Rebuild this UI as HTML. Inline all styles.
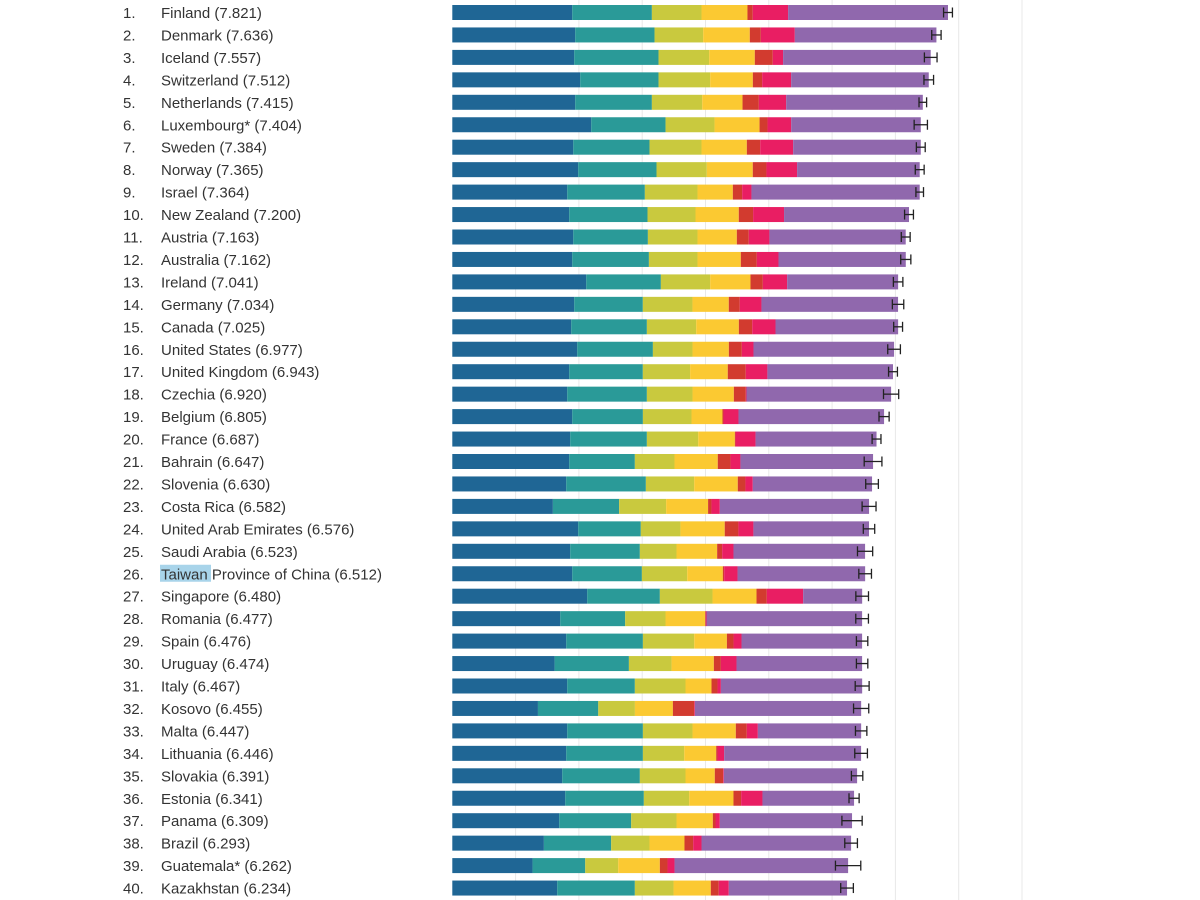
<!DOCTYPE html>
<html><head><meta charset="utf-8"><style>
html,body{margin:0;padding:0;background:#fff;}
svg{display:block;}
text{font-family:"Liberation Sans",sans-serif;font-size:15px;fill:#333;}
</style></head><body>
<svg id="chart" width="1200" height="900" xmlns="http://www.w3.org/2000/svg">
<g id="grid"></g>
<g id="bars"></g>
<g id="labels"></g>
</svg>
<script>
const countries=["Finland","Denmark","Iceland","Switzerland","Netherlands","Luxembourg*","Sweden","Norway","Israel","New Zealand","Austria","Australia","Ireland","Germany","Canada","United States","United Kingdom","Czechia","Belgium","France","Bahrain","Slovenia","Costa Rica","United Arab Emirates","Saudi Arabia","Taiwan Province of China","Singapore","Romania","Spain","Uruguay","Italy","Kosovo","Malta","Lithuania","Slovakia","Estonia","Panama","Brazil","Guatemala*","Kazakhstan"];
const scores=["7.821","7.636","7.557","7.512","7.415","7.404","7.384","7.365","7.364","7.200","7.163","7.162","7.041","7.034","7.025","6.977","6.943","6.920","6.805","6.687","6.647","6.630","6.582","6.576","6.523","6.512","6.480","6.477","6.476","6.474","6.467","6.455","6.447","6.446","6.391","6.341","6.309","6.293","6.262","6.234"];
const gdp=[1.895,1.942,1.926,2.021,1.942,2.195,1.911,1.989,1.816,1.847,1.911,1.895,2.116,1.926,1.879,1.974,1.847,1.816,1.895,1.863,1.847,1.800,1.589,1.989,1.863,1.895,2.132,1.705,1.800,1.616,1.816,1.353,1.816,1.800,1.737,1.784,1.689,1.447,1.268,1.658];
const social=[1.258,1.253,1.332,1.237,1.211,1.174,1.205,1.237,1.226,1.237,1.179,1.211,1.179,1.084,1.195,1.195,1.163,1.258,1.116,1.211,1.037,1.258,1.047,0.989,1.100,1.100,1.147,1.026,1.211,1.174,1.068,0.953,1.195,1.211,1.226,1.242,1.137,1.063,0.832,1.226];
const health=[0.784,0.768,0.800,0.816,0.795,0.774,0.821,0.795,0.832,0.758,0.784,0.768,0.779,0.784,0.779,0.626,0.747,0.721,0.768,0.811,0.626,0.763,0.742,0.626,0.579,0.716,0.832,0.637,0.811,0.674,0.800,0.579,0.784,0.653,0.721,0.716,0.716,0.605,0.521,0.611];
const freedom=[0.726,0.737,0.721,0.674,0.637,0.711,0.716,0.726,0.558,0.684,0.621,0.684,0.637,0.574,0.674,0.574,0.595,0.653,0.489,0.579,0.684,0.689,0.663,0.700,0.642,0.563,0.695,0.626,0.516,0.668,0.411,0.600,0.684,0.505,0.463,0.700,0.574,0.553,0.658,0.589];
const generosity=[0.084,0.174,0.284,0.147,0.258,0.126,0.211,0.216,0.147,0.226,0.189,0.253,0.195,0.174,0.211,0.205,0.284,0.189,0.016,0.011,0.200,0.121,0.053,0.216,0.079,0.021,0.163,0.011,0.105,0.111,0.095,0.337,0.174,0.021,0.132,0.121,0.042,0.137,0.121,0.126];
const corruption=[0.558,0.537,0.163,0.458,0.432,0.374,0.521,0.484,0.147,0.489,0.326,0.342,0.384,0.342,0.368,0.184,0.342,0.011,0.237,0.316,0.158,0.116,0.132,0.237,0.179,0.211,0.574,0.011,0.126,0.247,0.053,0.011,0.174,0.105,0.011,0.337,0.068,0.132,0.111,0.158];
const dystopia=[2.526,2.237,2.332,2.174,2.158,2.047,2.016,1.937,2.658,1.974,2.153,2.011,1.753,2.158,1.937,2.221,1.984,2.284,2.300,1.911,2.095,1.884,2.358,1.826,2.079,2.016,0.932,2.458,1.905,1.984,2.232,2.626,1.632,2.163,2.105,1.447,2.089,2.363,2.742,1.868];
const errHalf=[0.07,0.074,0.1,0.076,0.06,0.105,0.07,0.07,0.06,0.07,0.07,0.08,0.075,0.09,0.07,0.1,0.07,0.12,0.08,0.07,0.14,0.1,0.11,0.09,0.12,0.1,0.1,0.1,0.09,0.09,0.11,0.12,0.09,0.1,0.09,0.08,0.16,0.1,0.2,0.1];
const gridTicks=[1,2,3,4,5,6,7,8,9];

const series=[gdp,social,health,freedom,generosity,corruption,dystopia];
const seriesNames=["gdp","social-support","healthy-life","freedom","generosity","corruption","dystopia-residual"];
const colors=["#1f6695","#2a9a98","#c9c93e","#fbc932","#d23b2f","#e91e63","#9068ad"];
const NS="http://www.w3.org/2000/svg";
const x0=452.3, unit=63.3, y0=5, pitch=22.45, bh=15;
const xs=v=>x0+v*unit;
const yRow=i=>y0+i*pitch;
function mk(tag,attrs,parent){const e=document.createElementNS(NS,tag);for(const k in attrs)e.setAttribute(k,attrs[k]);parent.appendChild(e);return e;}
const grid=document.getElementById('grid'),bars=document.getElementById('bars'),labels=document.getElementById('labels');
gridTicks.forEach(t=>{
  const l=mk('line',{x1:xs(t),x2:xs(t),y1:0,y2:900,stroke:'#e8e8e8','stroke-width':1},grid);
  
  
});
countries.forEach((c,i)=>{
  const y=yRow(i);
  let cum=0;
  const g=mk('g',{},bars);
  
  
  series.forEach((s,k)=>{
    const r=mk('rect',{x:xs(cum),y:y,width:Math.max(0,s[i]*unit),height:bh,fill:colors[k]},g);
    
    
    cum+=s[i];
  });
  const cy=y+bh/2, ex1=xs(cum-errHalf[i]), ex2=xs(cum+errHalf[i]);
  const eg=mk('g',{stroke:'#222','stroke-width':1.3},g);
  
  
  mk('line',{x1:ex1,x2:ex2,y1:cy,y2:cy},eg);
  mk('line',{x1:ex1,x2:ex1,y1:cy-5,y2:cy+5},eg);
  mk('line',{x1:ex2,x2:ex2,y1:cy-5,y2:cy+5},eg);
  const base=cy+5.5;
  const rk=mk('text',{x:123,y:base},labels);
  rk.textContent=(i+1)+'.';
  
  
  if(c.startsWith('Taiwan')){
    const hl=mk('rect',{x:160,y:cy-9,width:51,height:17,fill:'#a8d4ea'},labels);
    
    
  }
  const t=mk('text',{x:161,y:base},labels);
  t.textContent=c+' ('+scores[i]+')';
  
  
});
</script>
</body></html>
